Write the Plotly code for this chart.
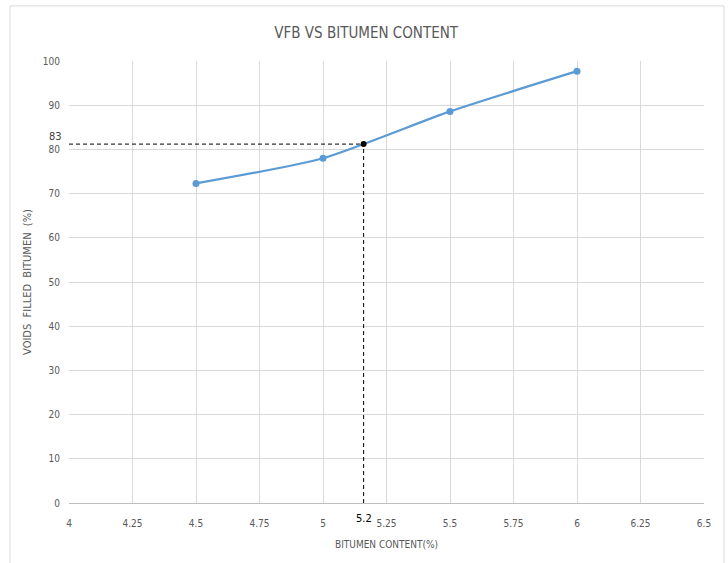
import plotly.graph_objects as go

# Bitumen content (%) vs voids filled with bitumen (%)
bitumen_content = [4.5, 5.0, 5.5, 6.0]
vfb = [72.3, 78.0, 88.6, 97.7]

# Optimum bitumen content read-off point
opt_content = 5.16
opt_vfb = 81.2
opt_content_label = "5.2"
opt_vfb_label = "83"

x_ticks = [4, 4.25, 4.5, 4.75, 5, 5.25, 5.5, 5.75, 6, 6.25, 6.5]
x_tick_text = ["4", "4.25", "4.5", "4.75", "5", "5.25", "5.5", "5.75", "6", "6.25", "6.5"]
y_ticks = [0, 10, 20, 30, 40, 50, 60, 70, 80, 90, 100]

FONT = "DejaVu Sans Condensed, Liberation Sans Narrow, Roboto, sans-serif"
GREY = "#595959"

fig = go.Figure()

# dashed guide lines to the axes
fig.add_trace(go.Scatter(
    x=[x_ticks[0], opt_content], y=[opt_vfb, opt_vfb],
    mode="lines", line=dict(color="black", width=1, dash="4px,3px"),
    hoverinfo="skip", showlegend=False))
fig.add_trace(go.Scatter(
    x=[opt_content, opt_content], y=[y_ticks[0], opt_vfb],
    mode="lines", line=dict(color="black", width=1, dash="4px,3px"),
    hoverinfo="skip", showlegend=False))

# VFB curve
fig.add_trace(go.Scatter(
    x=bitumen_content, y=vfb, mode="lines+markers",
    line=dict(color="#5B9BD5", width=2.25, shape="spline", smoothing=0.6),
    marker=dict(color="#5B9BD5", size=7),
    showlegend=False))

# optimum point
fig.add_trace(go.Scatter(
    x=[opt_content], y=[opt_vfb], mode="markers",
    marker=dict(color="black", size=6), showlegend=False))

fig.add_annotation(x=x_ticks[0], y=83, xref="x", yref="y", text=opt_vfb_label,
                   showarrow=False, xanchor="right", yanchor="middle", xshift=-5,
                   font=dict(family=FONT, size=11, color="#404040"))
fig.add_annotation(x=opt_content, y=0, xref="x", yref="y", text=opt_content_label,
                   showarrow=False, xanchor="center", yanchor="top", yshift=-7,
                   font=dict(family=FONT, size=11, color="black"))

# outer chart frame
fig.add_shape(type="rect", xref="paper", yref="paper",
              x0=-0.0929, x1=1.0315, y0=-0.16, y1=1.1247,
              line=dict(color="#D9D9D9", width=1), fillcolor="rgba(0,0,0,0)",
              layer="below")

fig.update_layout(
    width=728, height=563,
    margin=dict(l=69, r=24, t=61, b=60),
    paper_bgcolor="white", plot_bgcolor="white",
    title=dict(text="VFB VS BITUMEN CONTENT", x=0.503, xref="container",
               xanchor="center", y=0.942, yref="container", yanchor="middle",
               font=dict(family=FONT, size=15, color=GREY)),
    font=dict(family=FONT, size=10, color=GREY),
)

fig.update_xaxes(
    range=[4, 6.5], tickvals=x_ticks, ticktext=x_tick_text,
    showgrid=True, gridcolor="#D9D9D9", gridwidth=1,
    zeroline=False, showline=True, linecolor="#BFBFBF", linewidth=1,
    ticks="", ticklabelstandoff=11,
    title=dict(text="BITUMEN CONTENT(%)", font=dict(family=FONT, size=10, color=GREY),
               standoff=12),
)
fig.update_yaxes(
    range=[0, 100], tickvals=y_ticks,
    showgrid=True, gridcolor="#D9D9D9", gridwidth=1,
    zeroline=False, showline=False, ticks="", ticklabelstandoff=8,
    title=dict(text="VOIDS  FILLED  BITUMEN  (%)", font=dict(family=FONT, size=11, color=GREY),
               standoff=8),
)

fig.write_html("out.html")
